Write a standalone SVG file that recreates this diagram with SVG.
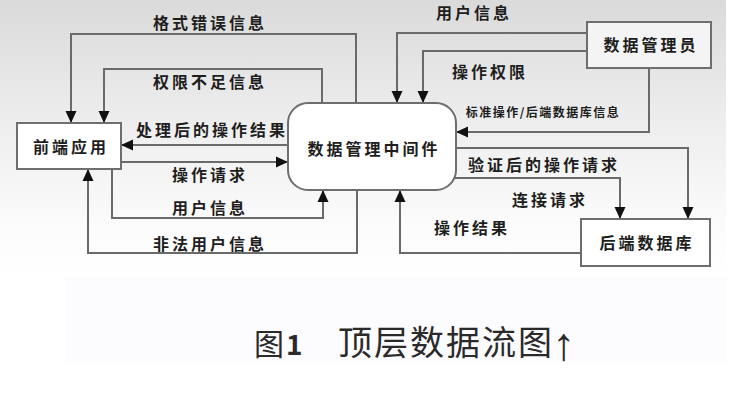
<svg xmlns="http://www.w3.org/2000/svg" width="754" height="405" viewBox="0 0 754 405">
<defs>
<linearGradient id="bg" x1="0" y1="0" x2="0" y2="1">
<stop offset="0" stop-color="#dadada"/>
<stop offset="0.45" stop-color="#eeeeee"/>
<stop offset="0.8" stop-color="#fbfbfb"/>
<stop offset="1" stop-color="#ffffff"/>
</linearGradient>
<marker id="arr" markerUnits="userSpaceOnUse" markerWidth="12" markerHeight="12" refX="12" refY="6" orient="auto">
<path d="M0,0.5 L12,6 L0,11.5 z" fill="#111"/>
</marker>
<style>
.bx{fill:#fff;stroke:#6e6e6e;stroke-width:2}
.ln{fill:none;stroke:#6a6a6a;stroke-width:2;marker-end:url(#arr)}
.t{font-family:"Noto Sans CJK SC","Noto Sans",sans-serif;font-weight:700;font-size:16px;fill:#1e1e1e;letter-spacing:3px;text-anchor:middle}
.s{font-size:12px;letter-spacing:1.5px}
.cap{font-family:"Noto Sans CJK SC","Noto Sans",sans-serif;font-size:34px;fill:#2a2a2a}
</style>
</defs>
<rect x="0" y="0" width="754" height="405" fill="#fff"/>
<rect x="0" y="0" width="726" height="278" fill="url(#bg)"/>
<rect x="65" y="278" width="661" height="85" fill="#fcfbfe"/>

<g id="connectors">
<path class="ln" d="M356,103 V34 H71 V123"/>
<path class="ln" d="M322,103 V69 H104 V123"/>
<path class="ln" d="M288,145 H121"/>
<path class="ln" d="M121,162 H288"/>
<path class="ln" d="M112,169 V218 H323 V190"/>
<path class="ln" d="M357,190 V253 H88 V169"/>
<path class="ln" d="M587,33 H397 V103"/>
<path class="ln" d="M587,51 H423 V103"/>
<path class="ln" d="M649,68 V132 H456"/>
<path class="ln" d="M456,148 H688 V219"/>
<path class="ln" d="M453,178 H620 V219"/>
<path class="ln" d="M581,253 H400 V190"/>
<text class="t" x="210" y="29">格式错误信息</text>
<text class="t" x="210" y="88">权限不足信息</text>
<text class="t" x="212" y="136">处理后的操作结果</text>
<text class="t" x="210" y="181">操作请求</text>
<text class="t" x="210" y="214">用户信息</text>
<text class="t" x="210" y="250">非法用户信息</text>
<text class="t" x="474" y="19">用户信息</text>
<text class="t" x="490" y="78">操作权限</text>
<text class="t s" x="543" y="117">标准操作/后端数据库信息</text>
<text class="t" x="544" y="171">验证后的操作请求</text>
<text class="t" x="550" y="206">连接请求</text>
<text class="t" x="472" y="234">操作结果</text>
</g>

<g id="frontend">
<rect class="bx" x="17" y="123" width="104" height="46"/>
<text class="t" x="71" y="153">前端应用</text>
</g>
<g id="middleware">
<rect class="bx" x="288" y="103" width="168" height="87" rx="20" ry="20"/>
<text class="t" x="374" y="155">数据管理中间件</text>
</g>
<g id="admin">
<rect class="bx" x="587" y="22" width="124" height="46" style="fill:#f4f4f4"/>
<text class="t" x="651" y="51">数据管理员</text>
</g>
<g id="backend">
<rect class="bx" x="581" y="219" width="129" height="47"/>
<text class="t" x="647" y="249">后端数据库</text>
</g>

<g id="caption">
<text class="cap" x="254" y="355" style="font-size:30px">图</text>
<text class="cap" x="286" y="355" style="font-weight:700;font-size:28px">1</text>
<text class="cap" x="338" y="355" style="letter-spacing:2px">顶层数据流图</text>
<text class="cap" x="552" y="360" style="font-family:'Liberation Sans',sans-serif;font-size:46px">↑</text>
</g>
</svg>
